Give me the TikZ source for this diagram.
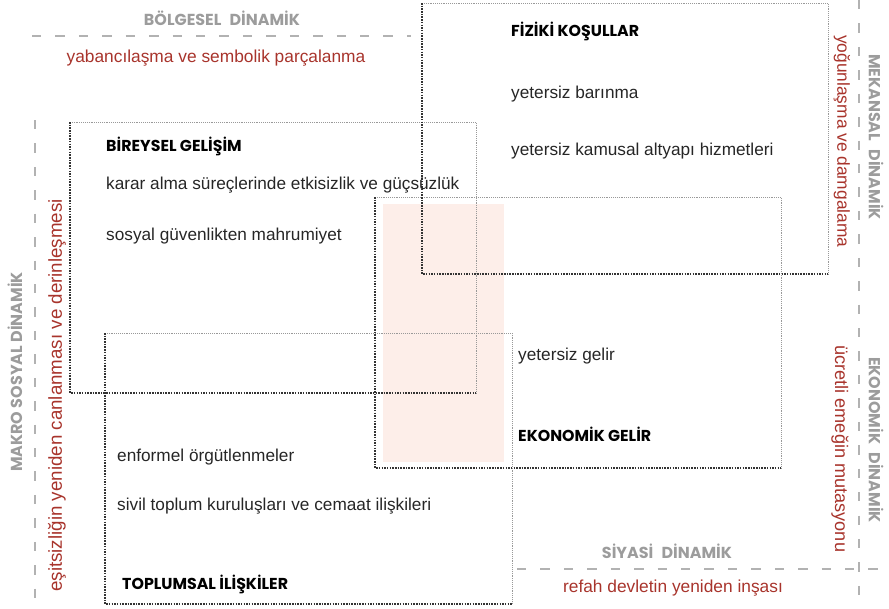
\documentclass[tikz,border=0pt]{standalone}
\usepackage{fontspec}
\setmainfont{Liberation Sans}
\newfontfamily\headfont{Poppins}

\definecolor{trendred}{HTML}{A8342C}
\definecolor{dyngray}{HTML}{9C9C9C}
\definecolor{overlap}{HTML}{FDEEE9}

\tikzset{
	darkdot/.style={draw=black!80, line width=1.3pt, densely dotted},
	lightdot/.style={draw=black!40, line width=0.6pt, densely dotted},
	guide/.style={draw=black!30, line width=1.1pt, dash pattern=on 8pt off 12pt},
	boxtitle/.style={anchor=west, inner sep=0pt, font=\headfont\bfseries\fontsize{13.5}{15}\selectfont},
	item/.style={anchor=west, inner sep=0pt, text=black!85, font=\fontsize{14.7}{16}\selectfont},
	trend/.style={inner sep=0pt, text=trendred, font=\fontsize{14.8}{16}\selectfont},
	dyn/.style={inner sep=0pt, text=dyngray, font=\headfont\bfseries\fontsize{13.6}{16}\selectfont}
}

\begin{document}
\begin{tikzpicture}[x=0.03cm, y=-0.03cm]
	\useasboundingbox (0,0) rectangle (889,608);

	% overlap of the four fields
	\fill [overlap] (383,204) rectangle (504,462);

	% guide lines of the dynamics
	\coordinate (TL) at (32,36);
	\coordinate (TR) at (411,36);
	\coordinate (LT) at (35,120);
	\coordinate (LB) at (35,606);
	\coordinate (RT) at (859,0);
	\coordinate (RB) at (859,608);
	\coordinate (BL) at (517,569);
	\coordinate (BR) at (889,569);
	\draw [guide] (TL) -- (TR);
	\draw [guide] (LT) -- (LB);
	\draw [guide] (RT) -- (RB);
	\draw [guide] (BL) -- (BR);

	% fields: light top and right, dark left and bottom
	\draw [lightdot] (422,3) -| (828,274);
	\draw [lightdot] (70,122) -| (476,393);
	\draw [lightdot] (375,197) -| (781,468);
	\draw [lightdot] (105,333) -| (512,604);
	\draw [darkdot] (422,3) |- (828,274);
	\draw [darkdot] (70,122) |- (476,393);
	\draw [darkdot] (375,197) |- (781,468);
	\draw [darkdot] (105,333) |- (512,604);

	% physical conditions
	\node [boxtitle] (fiz) at (511,31) {FİZİKİ KOŞULLAR};
	\node [item] (fiz1) at (511,94) {yetersiz barınma};
	\node [item] (fiz2) at (511,151) {yetersiz kamusal altyapı hizmetleri};

	% individual development
	\node [boxtitle] (bir) at (106,146) {BİREYSEL GELİŞİM};
	\node [item] (bir1) at (106,185) {karar alma süreçlerinde etkisizlik ve güçsüzlük};
	\node [item] (bir2) at (106,236) {sosyal güvenlikten mahrumiyet};

	% economic income
	\node [item] (eko1) at (518,356) {yetersiz gelir};
	\node [boxtitle] (eko) at (518,434) {EKONOMİK GELİR};

	% social relations
	\node [item] (top1) at (117,457) {enformel örgütlenmeler};
	\node [item] (top2) at (117,506) {sivil toplum kuruluşları ve cemaat ilişkileri};
	\node [boxtitle] (top) at (122,584) {TOPLUMSAL İLİŞKİLER};

	% dynamics
	\node [dyn] (bolge) at (222,18) {BÖLGESEL\hspace{0.3em} DİNAMİK};
	\node [trend] (bolge1) at (216,58) {yabancılaşma ve sembolik parçalanma};
	\node [dyn, rotate=90] (makro) at (15,372) {MAKRO SOSYAL DİNAMİK};
	\node [trend, rotate=90, anchor=west, font=\fontsize{16}{18}\selectfont] (makro1) at (57,592) {eşitsizliğin yeniden canlanması ve derinleşmesi};
	\node [dyn, rotate=-90] (mekan) at (876,137) {MEKANSAL\hspace{0.3em} DİNAMİK};
	\node [trend, rotate=-90, anchor=west] (mekan1) at (842,35) {yoğunlaşma ve damgalama};
	\node [dyn, rotate=-90] (ekodyn) at (876,440) {EKONOMİK\hspace{0.3em} DİNAMİK};
	\node [trend, rotate=-90, anchor=west, font=\fontsize{15.5}{17}\selectfont] (ekodyn1) at (840,345) {ücretli emeğin mutasyonu};
	\node [dyn] (siyasi) at (667,551) {SİYASİ\hspace{0.3em} DİNAMİK};
	\node [trend] (siyasi1) at (673,588) {refah devletin yeniden inşası};
\end{tikzpicture}
\end{document}
